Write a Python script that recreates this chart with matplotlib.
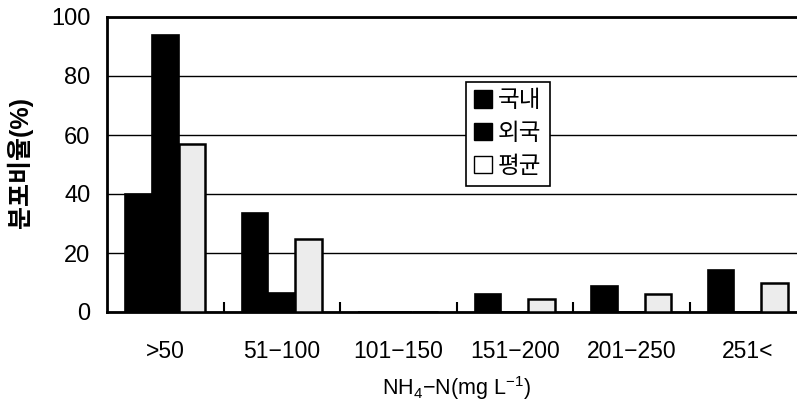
import matplotlib
matplotlib.use("Agg")
import matplotlib.pyplot as plt
import numpy as np
from matplotlib.patches import Patch

plt.rcParams['font.family'] = ['Liberation Sans', 'Noto Sans CJK KR', 'DejaVu Sans']
plt.rcParams['mathtext.fontset'] = 'custom'
plt.rcParams['mathtext.rm'] = 'Liberation Sans'
plt.rcParams['mathtext.it'] = 'Liberation Sans'

categories = ['>50', '51−100', '101−150', '151−200', '201−250', '251<']
domestic = [40, 33.5, 0, 6.0, 8.8, 14.3]
foreign = [94, 6.4, 0, 0, 0, 0]
average = [57, 24.7, 0, 4.3, 6.0, 9.9]
series_names = ['국내', '외국', '평균']
yticks = [0, 20, 40, 60, 80, 100]

W, H = 797, 409
fig = plt.figure(figsize=(W / 100, H / 100), dpi=100)
left, bottom, top = 107, 312, 17
cat_w = 116.5
ax = fig.add_axes([left / W, (H - bottom) / H, 6 * cat_w / W, (bottom - top) / H])

x = np.arange(len(categories))
bw = 0.229
ax.bar(x - bw, domestic, bw, color='black', edgecolor='black', linewidth=1.2, zorder=3)
ax.bar(x, foreign, bw, color='black', edgecolor='black', linewidth=1.2, zorder=3)
ax.bar(x + bw, average, bw, color='#ececec', edgecolor='black', linewidth=1.8, zorder=3)

ax.set_xlim(-0.5, len(categories) - 0.5)
ax.set_ylim(0, 100)
ax.set_yticks(yticks)
ax.set_xticks(x)
ax.set_xticklabels(categories, fontsize=16.5)
ax.set_xticks(x[:-1] + 0.5, minor=True)
ax.tick_params(axis='x', which='major', length=0, pad=20)
ax.tick_params(axis='x', which='minor', direction='in', length=7, width=1.5)
ax.tick_params(axis='y', length=0, pad=12, labelsize=17)
ax.yaxis.grid(True, color='black', linewidth=1.0, zorder=0)
ax.set_axisbelow(True)
for s in ['left', 'top', 'bottom', 'right']:
    ax.spines[s].set_linewidth(2)

fig.text(456 / W, 1 - 388 / H, 'NH$_4$−N(mg L$^{-1}$)', ha='center', va='center',
         fontsize=15.5)
fig.text(20 / W, 1 - 163 / H, '분포비율(%)', rotation=90, ha='center', va='center',
         fontsize=18, fontweight='bold')

handles = [Patch(facecolor='black', edgecolor='black'),
           Patch(facecolor='black', edgecolor='black'),
           Patch(facecolor='white', edgecolor='black')]
leg = fig.legend(handles, series_names, loc='upper left',
                 bbox_to_anchor=(466 / W, 1 - 82 / H), bbox_transform=fig.transFigure,
                 borderaxespad=0, fontsize=17, handlelength=0.75, handleheight=0.75,
                 handletextpad=0.25, labelspacing=0.45, borderpad=0.35,
                 fancybox=False, framealpha=1, edgecolor='black')
leg.get_frame().set_linewidth(1.2)

fig.savefig('out.png', dpi=100)
